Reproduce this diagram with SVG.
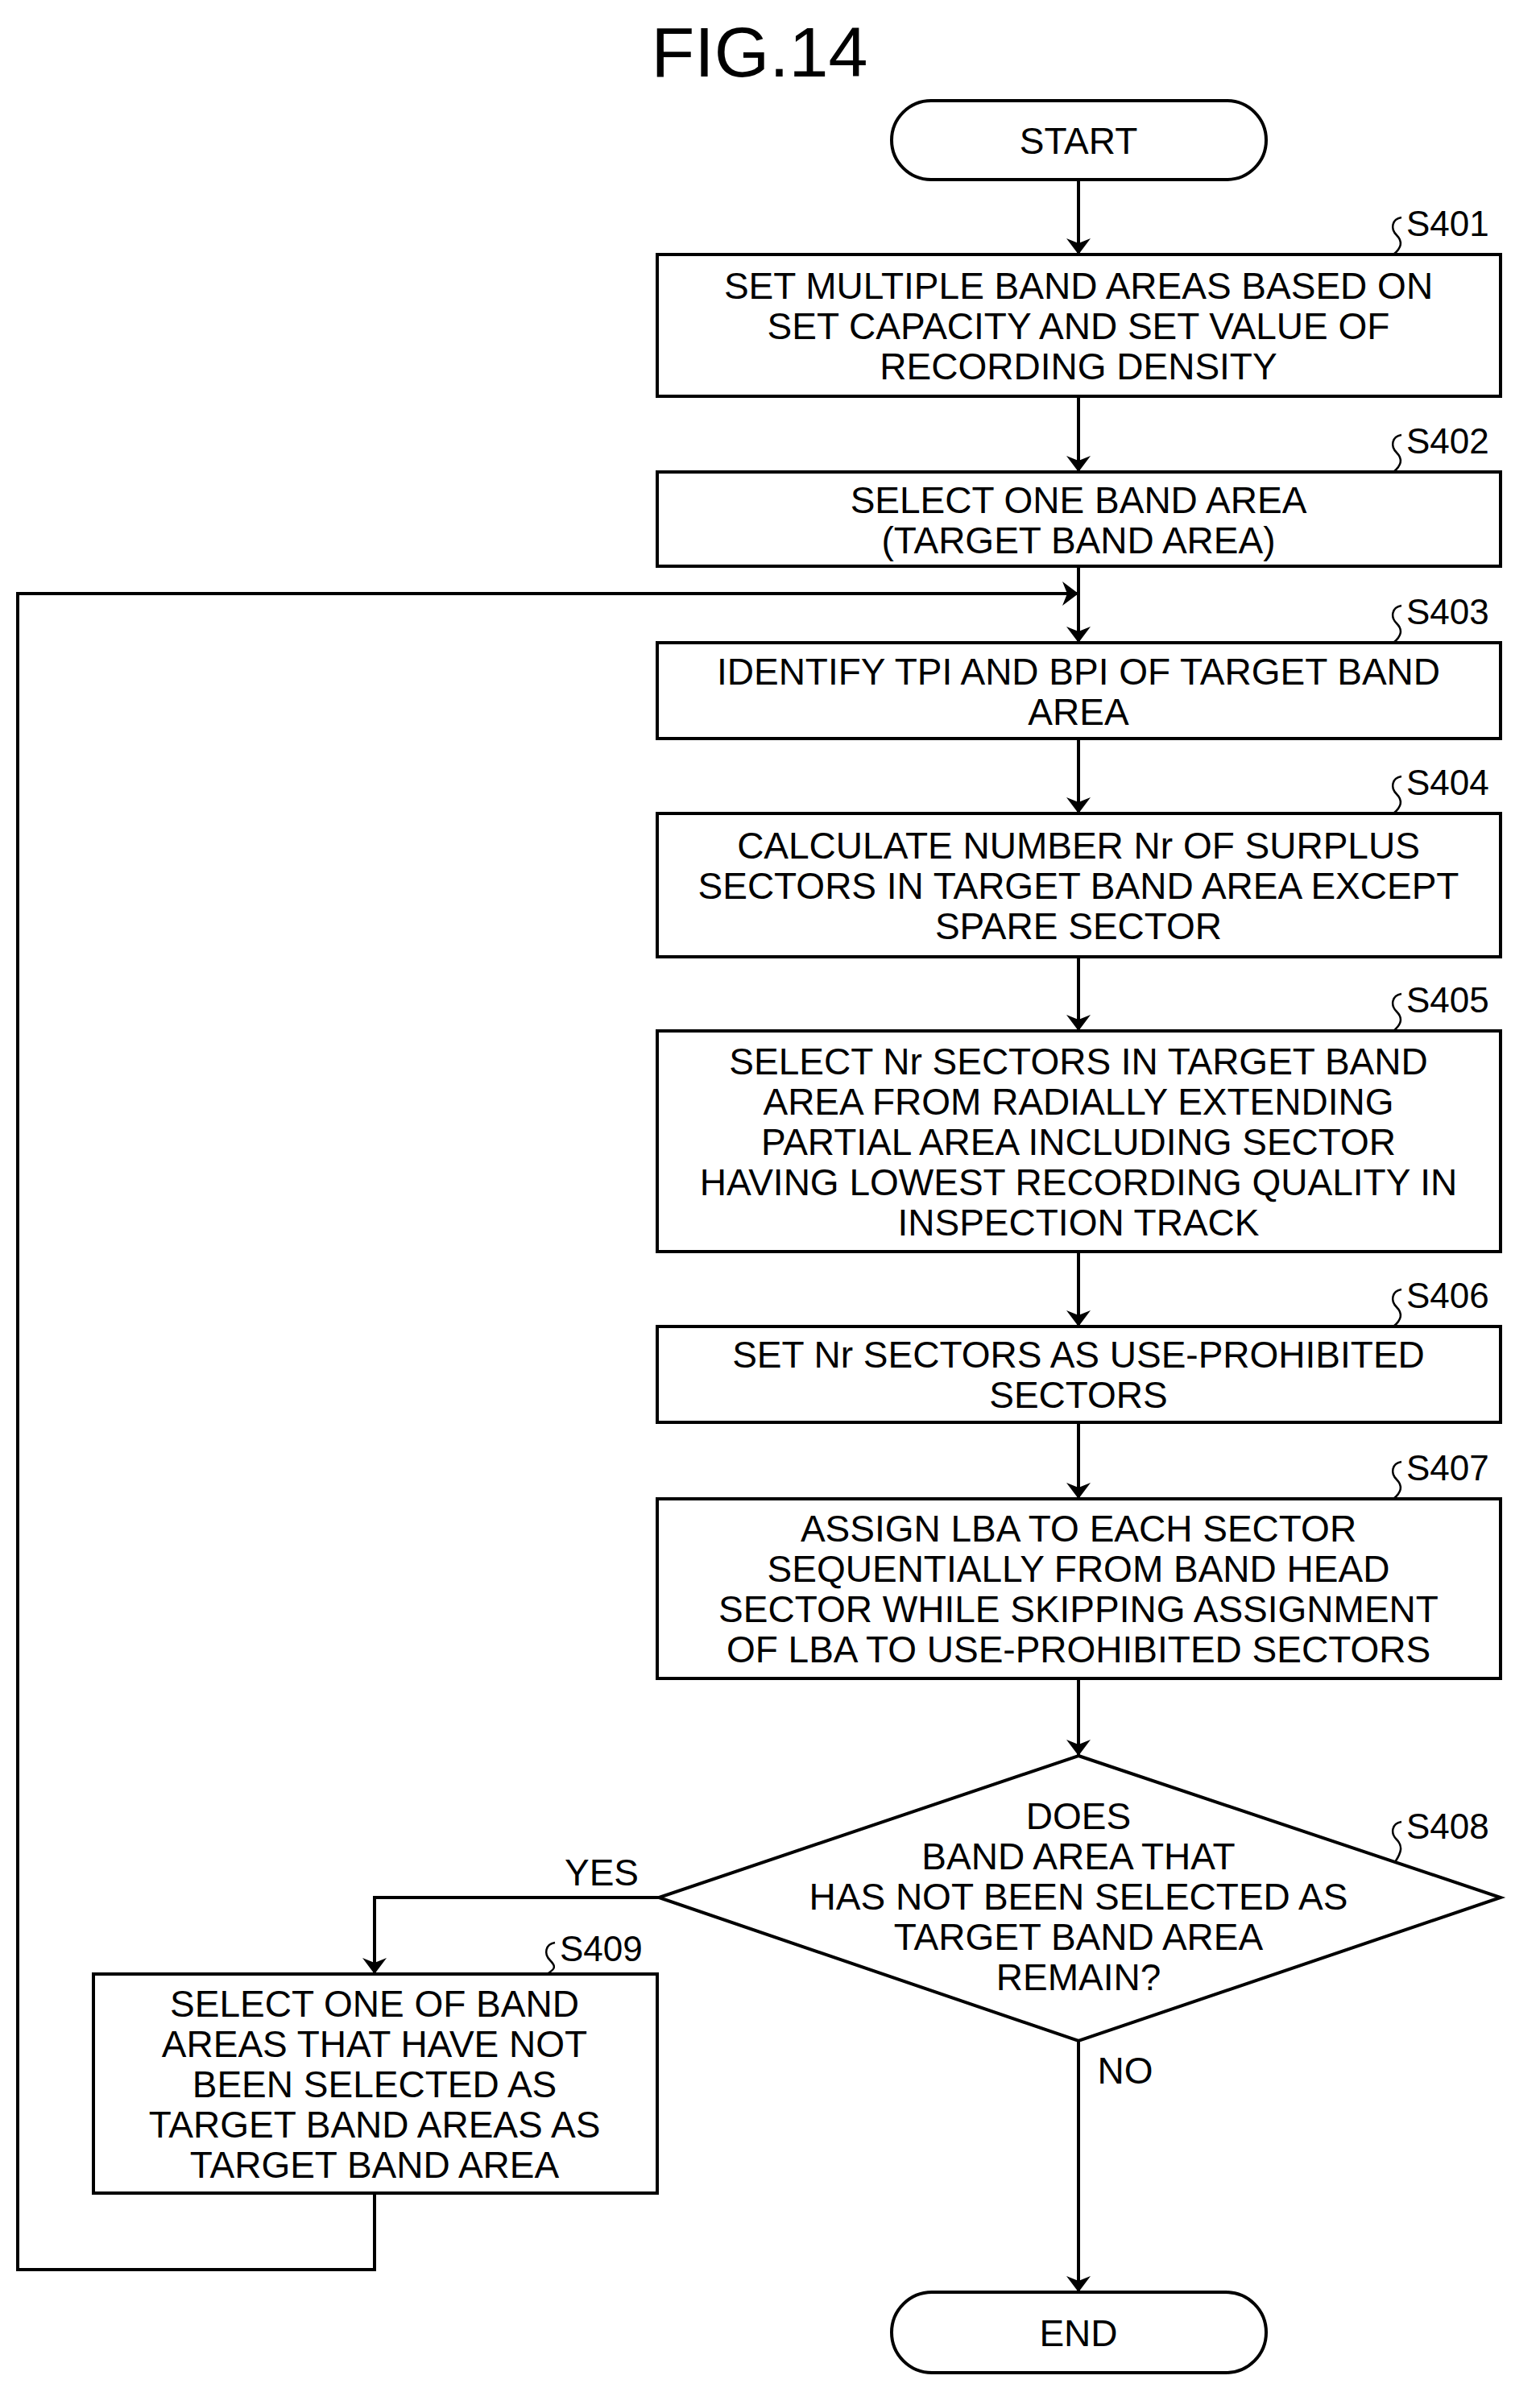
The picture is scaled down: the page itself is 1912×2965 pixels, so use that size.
<svg xmlns="http://www.w3.org/2000/svg" width="1912" height="2965" viewBox="0 0 1912 2965">
<style>
text{font-family:"Liberation Sans",Arial,sans-serif;font-size:46px;fill:#000;text-anchor:middle}
.lb{text-anchor:start;font-size:44px}
.box{fill:#fff;stroke:#000;stroke-width:4}
.ln{fill:none;stroke:#000;stroke-width:4}
.sq{fill:none;stroke:#000;stroke-width:2.5}
</style>
<defs><marker id="ah" markerWidth="10" markerHeight="10" refX="9" refY="5" orient="auto" markerUnits="userSpaceOnUse" viewBox="0 0 10 10"><path d="M0,0 L10,5 L0,10 z" fill="#000"/></marker>
<marker id="a" viewBox="0 0 20 30" refX="20" refY="15" markerWidth="20" markerHeight="30" orient="auto" markerUnits="userSpaceOnUse"><path d="M0,0 L20,15 L0,30 L6,15 z" fill="#000"/></marker></defs>
<text x="943" y="95" style="font-size:88px">FIG.14</text>
<g id="connectors">
<path class="ln" d="M1339,223 V316" marker-end="url(#a)"/>
<path class="ln" d="M1339,492 V586" marker-end="url(#a)"/>
<path class="ln" d="M1339,703 V798" marker-end="url(#a)"/>
<path class="ln" d="M1339,917 V1010" marker-end="url(#a)"/>
<path class="ln" d="M1339,1188 V1280" marker-end="url(#a)"/>
<path class="ln" d="M1339,1554 V1647" marker-end="url(#a)"/>
<path class="ln" d="M1339,1766 V1861" marker-end="url(#a)"/>
<path class="ln" d="M1339,2084 V2180" marker-end="url(#a)"/>
<path class="ln" d="M1339,2534 V2846" marker-end="url(#a)"/>
<path class="ln" d="M818,2356 H465 V2451" marker-end="url(#a)"/>
<path class="ln" d="M465,2723 V2818 H22 V737 H1339" marker-end="url(#a)"/>
<text x="747" y="2341">YES</text>
<text x="1397" y="2587">NO</text>
</g>
<g id="start"><rect class="box" x="1107" y="125" width="465" height="98" rx="49"/><text x="1339" y="191">START</text></g>
<g id="s401"><rect class="box" x="816" y="316" width="1047" height="176"/><text x="1339" y="371">SET MULTIPLE BAND AREAS BASED ON</text><text x="1339" y="421">SET CAPACITY AND SET VALUE OF</text><text x="1339" y="471">RECORDING DENSITY</text>
<path class="sq" d="M1740,270 c-12,2 -14,14 -6,22 c8,8 6,16 -4,24"/><text class="lb" x="1746" y="293">S401</text></g>
<g id="s402"><rect class="box" x="816" y="586" width="1047" height="117"/><text x="1339" y="637">SELECT ONE BAND AREA</text><text x="1339" y="687">(TARGET BAND AREA)</text>
<path class="sq" d="M1740,540 c-12,2 -14,14 -6,22 c8,8 6,16 -4,24"/><text class="lb" x="1746" y="563">S402</text></g>
<g id="s403"><rect class="box" x="816" y="798" width="1047" height="119"/><text x="1339" y="850">IDENTIFY TPI AND BPI OF TARGET BAND</text><text x="1339" y="900">AREA</text>
<path class="sq" d="M1740,752 c-12,2 -14,14 -6,22 c8,8 6,16 -4,24"/><text class="lb" x="1746" y="775">S403</text></g>
<g id="s404"><rect class="box" x="816" y="1010" width="1047" height="178"/><text x="1339" y="1066">CALCULATE NUMBER Nr OF SURPLUS</text><text x="1339" y="1116">SECTORS IN TARGET BAND AREA EXCEPT</text><text x="1339" y="1166">SPARE SECTOR</text>
<path class="sq" d="M1740,964 c-12,2 -14,14 -6,22 c8,8 6,16 -4,24"/><text class="lb" x="1746" y="987">S404</text></g>
<g id="s405"><rect class="box" x="816" y="1280" width="1047" height="274"/><text x="1339" y="1334">SELECT Nr SECTORS IN TARGET BAND</text><text x="1339" y="1384">AREA FROM RADIALLY EXTENDING</text><text x="1339" y="1434">PARTIAL AREA INCLUDING SECTOR</text><text x="1339" y="1484">HAVING LOWEST RECORDING QUALITY IN</text><text x="1339" y="1534">INSPECTION TRACK</text>
<path class="sq" d="M1740,1234 c-12,2 -14,14 -6,22 c8,8 6,16 -4,24"/><text class="lb" x="1746" y="1257">S405</text></g>
<g id="s406"><rect class="box" x="816" y="1647" width="1047" height="119"/><text x="1339" y="1698">SET Nr SECTORS AS USE-PROHIBITED</text><text x="1339" y="1748">SECTORS</text>
<path class="sq" d="M1740,1601 c-12,2 -14,14 -6,22 c8,8 6,16 -4,24"/><text class="lb" x="1746" y="1624">S406</text></g>
<g id="s407"><rect class="box" x="816" y="1861" width="1047" height="223"/><text x="1339" y="1914">ASSIGN LBA TO EACH SECTOR</text><text x="1339" y="1964">SEQUENTIALLY FROM BAND HEAD</text><text x="1339" y="2014">SECTOR WHILE SKIPPING ASSIGNMENT</text><text x="1339" y="2064">OF LBA TO USE-PROHIBITED SECTORS</text>
<path class="sq" d="M1740,1815 c-12,2 -14,14 -6,22 c8,8 6,16 -4,24"/><text class="lb" x="1746" y="1838">S407</text></g>
<g id="s408"><path class="box" d="M1339,2180 L1863,2356 L1339,2534 L818,2356 z"/><text x="1339" y="2271">DOES</text><text x="1339" y="2321">BAND AREA THAT</text><text x="1339" y="2371">HAS NOT BEEN SELECTED AS</text><text x="1339" y="2421">TARGET BAND AREA</text><text x="1339" y="2471">REMAIN?</text>
<path class="sq" d="M1740,2262 c-12,2 -14,14 -6,22 c8,8 6,16 -2,28"/><text class="lb" x="1746" y="2283">S408</text></g>
<g id="s409"><rect class="box" x="116" y="2451" width="700" height="272"/><text x="465" y="2504">SELECT ONE OF BAND</text><text x="465" y="2554">AREAS THAT HAVE NOT</text><text x="465" y="2604">BEEN SELECTED AS</text><text x="465" y="2654">TARGET BAND AREAS AS</text><text x="465" y="2704">TARGET BAND AREA</text>
<path class="sq" d="M689,2412 c-12,2 -14,14 -6,22 c8,8 6,11 -4,17"/><text class="lb" x="695" y="2435">S409</text></g>
<g id="end"><rect class="box" x="1107" y="2846" width="465" height="100" rx="50"/><text x="1339" y="2913">END</text></g>
</svg>
